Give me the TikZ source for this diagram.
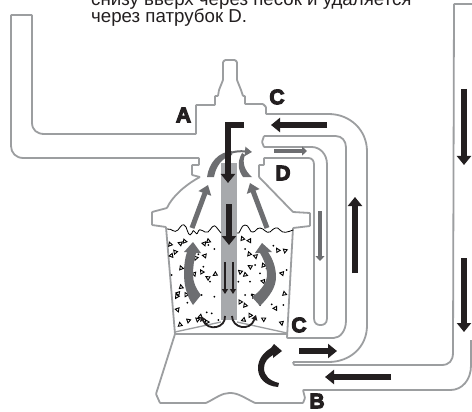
\documentclass[tikz,border=0pt]{standalone}
\usepackage{fontspec}
\setmainfont{Liberation Sans}
\newfontfamily\blk[BoldFont={Liberation Sans Bold},BoldFeatures={FakeBold=5}]{Liberation Sans}
\usetikzlibrary{arrows.meta}
\definecolor{pipe}{HTML}{9C9EA0}
\definecolor{tube}{HTML}{A7A9AC}
\definecolor{dk}{HTML}{231F20}
\definecolor{gr}{HTML}{6D6E71}
\tikzset{
  pipeline/.style={draw=pipe,line width=1.8pt,line join=round,rounded corners=0.6pt},
  bigarrow/.style={draw=dk,line width=6pt,-{Triangle[width=14pt,length=9pt]}},
  grarrow/.style={draw=gr,line width=5pt,-{Triangle[width=13pt,length=9pt]}},
  thinarrow/.style={draw=gr,line width=3.5pt,-{Triangle[width=9pt,length=5pt]}},
  slim/.style={draw=dk,line width=2.5pt,-{Triangle[width=6pt,length=5pt]}},
  swirl/.style={draw=dk,line width=1.8pt,-{Triangle[width=6pt,length=5pt]}},
  lab/.style={font=\blk\bfseries\fontsize{21}{21}\selectfont,text=dk,inner sep=0pt},
  sandtri/.style={draw=black,line width=.9pt,fill=white},
  bodytext/.style={anchor=base west,inner sep=0pt,font=\fontsize{18.7}{18}\selectfont,text=dk},
}
\newcommand{\sandt}[3]{\draw[sandtri,shift={(#1,#2)},rotate=#3] (0,-2) -- (2,1.6) -- (-2,1.6) -- cycle;}
\begin{document}
\begin{tikzpicture}[x=1pt,y=-1pt]
\useasboundingbox (0,0) rectangle (472,412);
\clip (0,0) rectangle (472,412);
\fill[white] (0,0) rectangle (472,412);
% central tube
\fill[tube] (221,163) rectangle (237,320);
% text
\node[bodytext] (t1) at (91,6) {снизу вверх через песок и удаляется};
\node[bodytext] (t2) at (91,23) {через патрубок D.};
% inlet pipe + cap
\draw[pipeline] (11,146) -- (11,15) -- (32,15) -- (32,122) .. controls (32,130) and (37,134) .. (45,134)
  -- (196,134) -- (196,105) -- (215,105) -- (215,96) -- (218,96) -- (219,90) -- (223,80) -- (223,62) -- (225,60) -- (235,60) -- (237,62)
  -- (237,80) -- (241,90) -- (243,96) -- (245,96) -- (245,104) -- (263,104) -- (266,107) -- (266,114)
  -- (328,114) .. controls (350,114) and (367,130) .. (367,152) -- (367,325) .. controls (367,347) and (350,362) .. (328,362) -- (293,362);
\draw[pipeline] (11,146) .. controls (11,153) and (16,158) .. (24,158) -- (199,158) -- (199,165) -- (192,165) -- (192,175) -- (200,177)
  .. controls (185,185) and (172,197) .. (167,208) -- (152,212) -- (152,225) -- (166,227) -- (175,334) -- (156,394) -- (160,403) -- (206,403)
  .. controls (216,398) and (222,393) .. (230,393) .. controls (238,393) and (245,398) .. (255,403) -- (303,403) -- (305,398) -- (303,390)
  -- (450,390) .. controls (462,390) and (471,380) .. (471,365) -- (471,340);
% right pipe
\draw[pipeline] (472,4) -- (454,4) -- (453,352) .. controls (453,361) and (449,365) .. (441,365) -- (294,365) -- (293,362);
% return pipe inner
\draw[pipeline] (264,136) -- (335,136) .. controls (342,136) and (346,141) .. (346,148) -- (346,320) .. controls (346,331) and (340,338) .. (333,338)
  -- (287,338) -- (293,228) -- (310,226) -- (310,213) -- (293,212) -- (259,177) -- (259,165) -- (264,165) -- (264,158) -- (308,158)
  .. controls (312,158) and (314,161) .. (314,165) -- (314,318) .. controls (314,324) and (318,325) .. (320.500,325) .. controls (323,325) and (327,324) .. (327,318)
  -- (327,165) .. controls (327,154) and (320,147) .. (311,147) -- (264,147) -- (262,142) -- (264,136);
% lower funnel & base line
\draw[pipeline] (175,334) -- (287,334);
\draw[pipeline,line width=1.3pt] (175,332) -- (221,322);
\draw[pipeline,line width=1.3pt] (237,322) -- (287,333);
% sand surface
\draw[black,line width=.8pt] (167,229) .. controls (172,228) and (174,234) .. (178,230) .. controls (181,226) and (183,222) .. (186,227)
 .. controls (188,232) and (189,238) .. (192,233) .. controls (194,226) and (196,238) .. (198,232) .. controls (200,226) and (204,234) .. (208,232)
 .. controls (211,230) and (213,222) .. (217,228) -- (221,233);
\draw[black,line width=.8pt] (237,233) .. controls (240,236) and (241,224) .. (245,225) .. controls (249,224) and (250,234) .. (253,232)
 .. controls (256,232) and (256,228) .. (260,228) .. controls (264,228) and (266,234) .. (270,232) .. controls (274,228) and (277,226) .. (280,230)
 .. controls (283,234) and (288,232) .. (293,230);
% sand grains
\foreach \X/\Y/\R in {15/57/20,45/55/70,58/50/140,130/47/10,118/57/200,30/80/40,18/92/100,92/100/160,118/92/80,48/128/20,88/148/200,110/140/30,128/158/60,150/148/120,48/185/10,38/205/80,35/215/150,63/208/30,38/255/200,70/288/170,45/298/10,97/283/50,105/275/110,125/290/30}
  {\sandt{165+\X/3}{225+\Y/3}{\R}}
\foreach \X/\Y/\R in {22/40/20,42/47/90,42/88/140,62/95/190,128/75/30,150/78/170,45/125/60,85/120/20,100/130/100,15/140/50,30/150/130,85/170/200,55/212/40,148/205/10,140/145/80,15/232/150,30/240/20,120/250/90,85/282/60,140/295/190,45/270/30,25/285/110}
  {\sandt{235+\X/3}{225+\Y/3}{\R}}
\foreach \X/\Y in {148/72,100/88,130/60,20/150,115/125,135/170,148/215,67/233,110/210,140/265,160/285,125/262}
  {\fill[black] ({165+\X/3},{225+\Y/3}) circle (1pt);}
\foreach \X/\Y in {30/72,115/62,60/120,75/145,45/170,10/170,85/195,30/210,110/238,145/240,75/240,50/210,155/135}
  {\fill[black] ({235+\X/3},{225+\Y/3}) circle (1pt);}
% gray flow arrows
\draw[grarrow] (192,228) -- (208,185);
\draw[grarrow] (267,228) -- (250,183);
\fill[gr] (193,305) .. controls (186,295) and (184,284) .. (184,273) .. controls (184,265) and (185,258) .. (187,252) -- (184,252) -- (193,242) -- (201,253) -- (196,253)
  .. controls (194,260) and (193,267) .. (193,275) .. controls (193,282) and (196,289) .. (201,295) -- cycle;
\fill[gr] (260,306) .. controls (270,296) and (276,287) .. (276,277) .. controls (276,268) and (273,259) .. (268,252) -- (272,252) -- (262,243) -- (255,253) -- (260,253)
  .. controls (264,260) and (267,267) .. (267,275) .. controls (267,282) and (261,291) .. (252,297) -- cycle;
\fill[gr] (207,177) -- (214,177) .. controls (216,166) and (222,158) .. (232,155) -- (232,151) .. controls (218,152) and (209,163) .. (207,177) -- cycle;
\draw[draw=gr,line width=2pt,-{Triangle[width=9pt,length=7pt]}] (230,153) .. controls (237,151) and (240,151) .. (252,152);
\fill[gr] (243,177) -- (252,177) .. controls (244,170) and (242,162) .. (245,155) -- (242,153) .. controls (237,162) and (238,170) .. (243,177) -- cycle;
\draw[thinarrow] (274,151) -- (307,151);
\draw[thinarrow] (320,211) -- (320,261);
% dark flow arrows
\draw[bigarrow] (327,125) -- (271,125);
\draw[bigarrow] (464,89) -- (464,165);
\draw[bigarrow] (464,258) -- (464,332);
\draw[bigarrow] (355,273) -- (355,197);
\draw[bigarrow] (299,351) -- (337,351);
\draw[bigarrow] (391,377) -- (325,377);
\draw[bigarrow,miter limit=10] (244,125) -- (228,125) -- (228,183);
\draw[bigarrow] (229,204) -- (229,245);
\draw[slim] (225,262) -- (225,294);
\draw[slim] (233,262) -- (233,294);
\draw[swirl] (225,316) .. controls (226,328) and (208,332) .. (201,316);
\draw[swirl] (232,316) .. controls (232,328) and (250,332) .. (256,315);
\fill[dk] (278,387) .. controls (265,386) and (258,378) .. (258,368) .. controls (258,359) and (264,352) .. (271,348) -- (274,344) -- (282,351) -- (273,358) -- (273,355)
  .. controls (268,358) and (264,362) .. (264,368) .. controls (264,376) and (270,381) .. (279,383) -- cycle;
% labels
\node[lab] (A) at (183.5,115) {A};
\node[lab] (C1) at (277,97) {C};
\node[lab] (D) at (283,173) {D};
\node[lab] (C2) at (299,325) {C};
\node[lab] (B) at (317,401) {B};
\end{tikzpicture}
\end{document}
